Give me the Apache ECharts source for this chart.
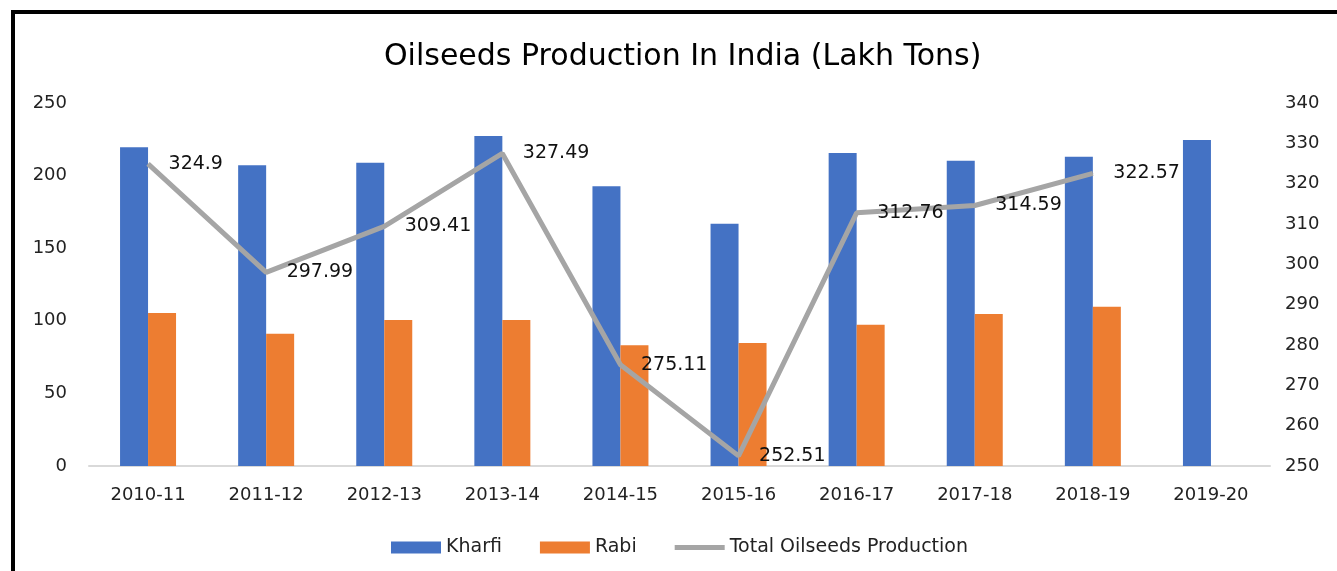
<!DOCTYPE html>
<html>
<head>
<meta charset="utf-8">
<title>Oilseeds Production In India</title>
<script src="https://cdn.jsdelivr.net/npm/echarts@6/dist/echarts.min.js"></script>
<style>
  html, body { margin: 0; padding: 0; background: #fff; }
  #main { width: 1337px; height: 571px; }
</style>
</head>
<body>
<div id="main"></div>
<script>
// data (lakh tons)
var years = ['2010-11', '2011-12', '2012-13', '2013-14', '2014-15', '2015-16', '2016-17', '2017-18', '2018-19', '2019-20'];
var kharif = [219.6, 207.2, 208.8, 227.2, 192.6, 166.9, 215.5, 210.3, 212.9, 224.5];
var rabi = [105.4, 91.0, 100.6, 100.5, 83.2, 84.7, 97.3, 104.6, 109.6, null];
var total = [324.9, 297.99, 309.41, 327.49, 275.11, 252.51, 312.76, 314.59, 322.57, null];

var font = 'DejaVu Sans';
var myChart = echarts.init(document.getElementById('main'));

var option = {
    backgroundColor: '#fff',
    animation: false,
    textStyle: { fontFamily: font },
    // black frame on top and left
    graphic: [
        { type: 'rect', shape: { x: 11, y: 10, width: 1400, height: 4 }, style: { fill: '#000' } },
        { type: 'rect', shape: { x: 11, y: 10, width: 4, height: 600 }, style: { fill: '#000' } }
    ],
    title: {
        text: 'Oilseeds Production In India (Lakh Tons)',
        left: 379,
        top: 37,
        textStyle: { fontFamily: font, fontSize: 30, fontWeight: 'normal', color: '#000' }
    },
    legend: {
        left: 386,
        top: 533,
        itemWidth: 50,
        itemHeight: 12,
        itemGap: 38,
        textStyle: { fontFamily: font, fontSize: 19, color: '#222' },
        data: [
            { name: 'Kharfi', icon: 'rect' },
            { name: 'Rabi', icon: 'rect' },
            { name: 'Total Oilseeds Production', icon: 'path://M0,0 H50 V5 H0 Z' }
        ]
    },
    grid: { left: 89, right: 67, top: 103, bottom: 105 },
    xAxis: {
        type: 'category',
        data: years,
        axisTick: { show: false },
        axisLine: { lineStyle: { color: '#d9d9d9', width: 2 } },
        axisLabel: { fontFamily: font, fontSize: 18, color: '#222', margin: 20 }
    },
    yAxis: [
        {
            type: 'value', min: 0, max: 250, interval: 50,
            splitLine: { show: false },
            axisLabel: { fontFamily: font, fontSize: 18, color: '#222', margin: 22 }
        },
        {
            type: 'value', min: 250, max: 340, interval: 10,
            splitLine: { show: false },
            axisLabel: { fontFamily: font, fontSize: 18, color: '#222', margin: 15 }
        }
    ],
    series: [
        {
            name: 'Kharfi', type: 'bar', data: kharif,
            barWidth: 28, barGap: '0%',
            itemStyle: { color: '#4472c4' }
        },
        {
            name: 'Rabi', type: 'bar', data: rabi,
            barWidth: 28,
            itemStyle: { color: '#ed7d31' }
        },
        {
            name: 'Total Oilseeds Production', type: 'line', yAxisIndex: 1, data: total,
            symbol: 'circle', symbolSize: 1,
            itemStyle: { color: '#a5a5a5' },
            lineStyle: { color: '#a5a5a5', width: 5 },
            label: {
                show: true, position: 'right', distance: 20,
                fontFamily: font, fontSize: 19, color: '#111'
            }
        }
    ]
};

myChart.setOption(option);
</script>
</body>
</html>
